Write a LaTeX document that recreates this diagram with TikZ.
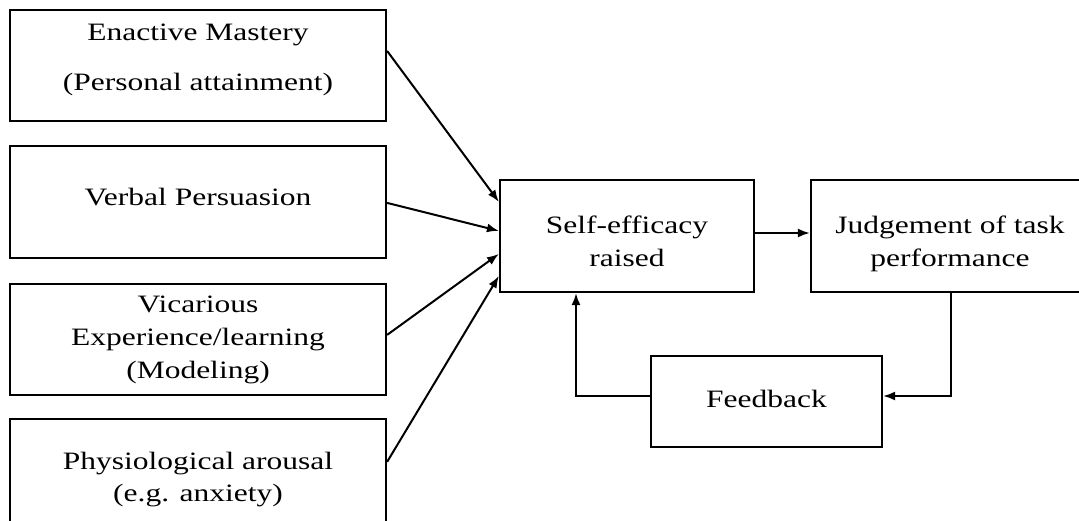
\documentclass[tikz,border=0pt]{standalone}
\usepackage{fontspec}
\setmainfont{Liberation Serif}[FakeStretch=1.26]
\usetikzlibrary{arrows.meta,calc}
\begin{document}
\begin{tikzpicture}[x=1pt,y=-1pt,
  box/.style={draw=black, line width=2.2pt, rectangle, inner sep=0pt},
  lbl/.style={anchor=base, inner sep=0pt, font=\fontsize{25}{29}\selectfont, text=black},
  conn/.style={line width=2pt, -{Latex[length=12pt,width=9pt]}}]
\useasboundingbox (0,0) rectangle (1079,520);
\clip (0,0) rectangle (1079,520);
% boxes
\node[box, minimum width=376pt, minimum height=111pt] (b1) at (198,65.5) {};
\node[box, minimum width=376pt, minimum height=112pt] (b2) at (198,202) {};
\node[box, minimum width=376pt, minimum height=111pt] (b3) at (198,339.5) {};
\node[box, minimum width=376pt, minimum height=112pt] (b4) at (198,475) {};
\node[box, minimum width=254pt, minimum height=112pt] (se) at (627,236) {};
\node[box, minimum width=279pt, minimum height=112pt] (jt) at (950.5,236) {};
\node[box, minimum width=231pt, minimum height=91pt] (fb) at (766.5,401.5) {};
% labels
\node[lbl] (t1a) at (198,40) {Enactive Mastery};
\node[lbl] (t1b) at (198,90) {(Personal attainment)};
\node[lbl] (t2) at (198,205) {Verbal Persuasion};
\node[lbl] (t3a) at (198,312) {Vicarious};
\node[lbl] (t3b) at (198,345) {Experience/learning};
\node[lbl] (t3c) at (198,378) {(Modeling)};
\node[lbl] (t4a) at (198,469) {Physiological arousal};
\node[lbl] (t4b) at (198,501) {(e.g. anxiety)};
\node[lbl] (tsa) at (627,233) {Self-efficacy};
\node[lbl] (tsb) at (627,266) {raised};
\node[lbl] (tja) at (950,233) {Judgement of task};
\node[lbl] (tjb) at (950,266) {performance};
\node[lbl] (tf) at (766.5,407) {Feedback};
% connectors
\draw[conn] ([yshift=-42pt]b1.north east) -- ([yshift=-23pt]se.north west);
\draw[conn] ([yshift=-58pt]b2.north east) -- ([yshift=-52pt]se.north west);
\draw[conn] ([yshift=-52pt]b3.north east) -- ([yshift=-75pt]se.north west);
\draw[conn] ([yshift=-44pt]b4.north east) -- ([yshift=-97pt]se.north west);
\draw[conn] ([yshift=3pt]se.east) -- ([yshift=3pt]jt.west);
\draw[conn] (jt.south) |- ([yshift=5.5pt]fb.east);
\draw[conn] ([yshift=5.5pt]fb.west) -| ([xshift=-51pt]se.south);
\end{tikzpicture}
\end{document}
